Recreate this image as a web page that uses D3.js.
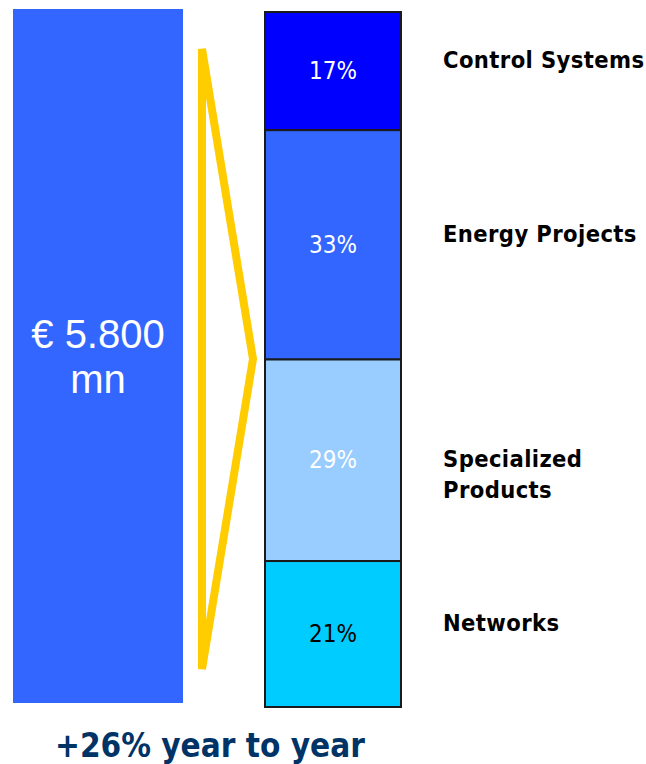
<!DOCTYPE html>
<html>
<head>
<meta charset="utf-8">
<script src="https://cdn.jsdelivr.net/npm/d3@7"></script>
<style>
  body { margin: 0; background: #fff; }
  svg { display: block; }
</style>
</head>
<body>
<div id="chart"></div>
<script>
var w = 646, h = 764;

// data
var segments = ["Control Systems", "Energy Projects", "Specialized Products", "Networks"];
var shares = [17, 33, 29, 21];
var segColors = ["#0000FF", "#3366FF", "#99CCFF", "#00CCFF"];
var segTextColors = ["#fff", "#fff", "#fff", "#000"];
var totalLabel = ["€ 5.800", "mn"];
var growthLabel = "+26% year to year";

var FONT = "'DejaVu Sans Condensed', 'DejaVu Sans', Verdana, sans-serif";

var svg = d3.select("#chart").append("svg")
    .attr("width", w)
    .attr("height", h);

// stacked bar scale
var y = d3.scaleLinear().domain([0, d3.sum(shares)]).range([12, 707]);

var stacked = [];
var acc = 0;
shares.forEach(function(s, i) {
  stacked.push({name: segments[i], value: s, y0: acc, y1: acc + s, i: i});
  acc += s;
});

// big total bar
svg.append("rect")
    .attr("x", 13)
    .attr("y", 9)
    .attr("width", 170)
    .attr("height", 694)
    .attr("fill", "#3366FF");

svg.selectAll("text.total")
    .data(totalLabel)
  .enter().append("text")
    .attr("class", "total")
    .attr("x", 98)
    .attr("y", function(d, i) { return 348 + i * 45; })
    .attr("text-anchor", "middle")
    .attr("font-family", "'Liberation Sans', Arial, sans-serif")
    .attr("font-size", 40)
    .attr("fill", "#fff")
    .text(function(d) { return d; });

// yellow chevron
svg.append("path")
    .attr("d", "M202,49L253,359L202,669Z")
    .attr("fill", "none")
    .attr("stroke", "#FFCC00")
    .attr("stroke-width", 8)
    .attr("stroke-linejoin", "miter");

// stacked segments
var barX = 265, barW = 136;
var seg = svg.selectAll("g.seg")
    .data(stacked)
  .enter().append("g")
    .attr("class", "seg");

seg.append("rect")
    .attr("x", barX)
    .attr("y", function(d) { return y(d.y0); })
    .attr("width", barW)
    .attr("height", function(d) { return y(d.y1) - y(d.y0); })
    .attr("fill", function(d) { return segColors[d.i]; })
    .attr("stroke", "#1a1a1a")
    .attr("stroke-width", 2);

seg.append("text")
    .attr("x", barX + barW / 2)
    .attr("y", function(d) { return (y(d.y0) + y(d.y1)) / 2 + 8; })
    .attr("text-anchor", "middle")
    .attr("font-family", FONT)
    .attr("font-size", 24)
    .attr("fill", function(d) { return segTextColors[d.i]; })
    .text(function(d) { return d.value + "%"; });

// category labels
seg.append("text")
    .attr("x", 443)
    .attr("y", function(d) {
      var mid = (y(d.y0) + y(d.y1)) / 2;
      return d.name.length > 16 ? mid + 7 : mid - 3;
    })
    .attr("font-family", FONT)
    .attr("font-weight", "bold")
    .attr("font-size", 23.5)
    .attr("letter-spacing", 0.4)
    .attr("fill", "#000")
    .each(function(d) {
      var t = d3.select(this);
      if (d.name.length > 16) {
        var parts = d.name.split(" ");
        t.append("tspan").attr("x", 443).attr("dy", 0).text(parts[0]);
        t.append("tspan").attr("x", 443).attr("dy", 31).text(parts[1]);
      } else {
        t.text(d.name);
      }
    });

// growth note
svg.append("text")
    .attr("x", 55)
    .attr("y", 757)
    .attr("font-family", FONT)
    .attr("font-weight", "bold")
    .attr("font-size", 33)
    .attr("fill", "#003366")
    .text(growthLabel);
</script>
</body>
</html>
